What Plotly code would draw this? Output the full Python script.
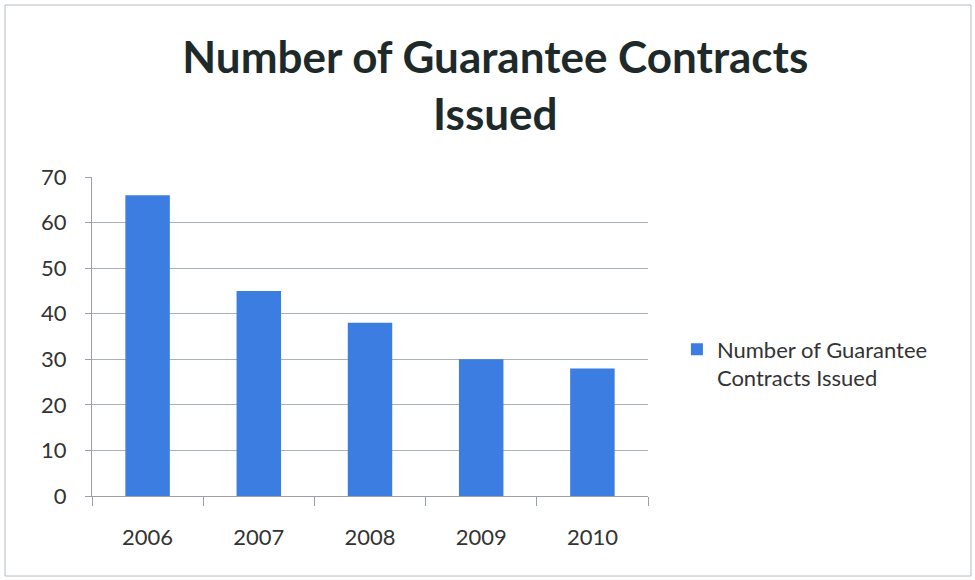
import plotly.graph_objects as go

# Contracts issued per year
years = ["2006", "2007", "2008", "2009", "2010"]
contracts = [66, 45, 38, 30, 28]
series_name = "Number of Guarantee<br>Contracts Issued"
title_text = "Number of Guarantee Contracts<br>Issued"

W, H = 975, 580
ml, mr, mt, mb = 92, 327, 177, 84

fig = go.Figure()
fig.add_trace(go.Bar(
    x=years,
    y=contracts,
    name=series_name,
    marker=dict(color="#3b7de0", line=dict(width=0)),
    width=0.4,
    showlegend=True,
))

fig.update_layout(
    width=W,
    height=H,
    margin=dict(l=ml, r=mr, t=mt, b=mb),
    paper_bgcolor="white",
    plot_bgcolor="white",
    font=dict(family="Lato, Open Sans, sans-serif", color="#333333"),
    title=dict(
        text=title_text,
        x=0.508,
        xanchor="center",
        y=0.874,
        yanchor="middle",
        font=dict(size=44, color="#1e2a2a", family="Lato, Open Sans, sans-serif", weight="bold"),
    ),
    showlegend=True,
    legend=dict(
        x=1.052,
        y=0.414,
        xanchor="left",
        yanchor="middle",
        valign="top",
        font=dict(size=22, color="#333333"),
        bgcolor="rgba(0,0,0,0)",
        itemsizing="constant",
    ),
    xaxis=dict(
        type="category",
        showline=True,
        linecolor="#9aa0a6",
        linewidth=1,
        ticks="outside",
        tickson="boundaries",
        ticklen=9,
        tickcolor="#9aa0a6",
        ticklabelstandoff=22,
        tickfont=dict(size=22, color="#333333"),
        showgrid=False,
    ),
    yaxis=dict(
        range=[0, 70],
        dtick=10,
        showline=True,
        linecolor="#9aa0a6",
        linewidth=1,
        ticks="outside",
        ticklen=6,
        tickcolor="#9aa0a6",
        ticklabelstandoff=14,
        showgrid=True,
        gridcolor="#a9b2ba",
        gridwidth=1,
        zeroline=False,
        tickfont=dict(size=22, color="#333333"),
    ),
)

# Outer chart border
pw = W - ml - mr
ph = H - mt - mb
fig.add_shape(
    type="rect",
    xref="paper", yref="paper",
    x0=(5 - ml) / pw, x1=(971 - ml) / pw,
    y0=(H - mb - 576) / ph, y1=(H - mb - 5) / ph,
    line=dict(color="#b8bec4", width=1),
    fillcolor="rgba(0,0,0,0)",
    layer="below",
)

fig.write_html("out.html")
